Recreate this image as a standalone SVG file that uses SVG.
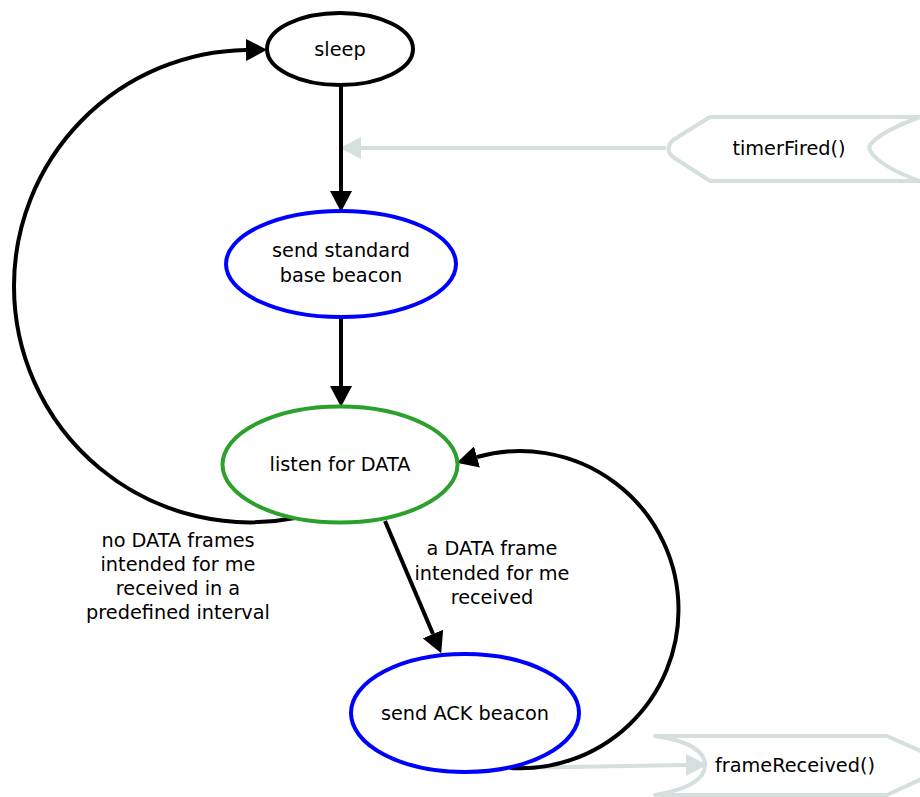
<svg xmlns="http://www.w3.org/2000/svg" width="920" height="797" viewBox="0 0 920 797">
  <style>
    text { font-family: "DejaVu Sans", "Liberation Sans", sans-serif; font-size: 19.3px; fill: #000; text-anchor: middle; }
    .state { fill: #fff; stroke-width: 4; }
    .plain { stroke: #000; }
    .beacon { stroke: #0000ff; }
    .listen { stroke: #2ca02c; }
    .signal { fill: #fff; stroke: #d5dfdd; stroke-width: 4; stroke-linejoin: round; }
    .edge { fill: none; stroke: #000; stroke-width: 4; }
    .sig-edge { fill: none; stroke: #d5dfdd; stroke-width: 4; }
  </style>
  <defs>
    <marker id="arrow" markerUnits="userSpaceOnUse" markerWidth="21" markerHeight="22" viewBox="0 0 21 22" refX="0" refY="11" orient="auto">
      <path d="M0,0 L21,11 L0,22 Z" fill="#000"/>
    </marker>
    <marker id="arrow-grey" markerUnits="userSpaceOnUse" markerWidth="21" markerHeight="22" viewBox="0 0 21 22" refX="0" refY="11" orient="auto">
      <path d="M0,0 L21,11 L0,22 Z" fill="#d5dfdd"/>
    </marker>
  </defs>
  <rect width="920" height="797" fill="#fff"/>

  <!-- signal connectors (drawn underneath the state transitions) -->
  <g id="signals">
    <path class="sig-edge" d="M666,148 L361,148" marker-end="url(#arrow-grey)"/>
    <path class="sig-edge" d="M510,768 L686,765" marker-end="url(#arrow-grey)"/>
  </g>

  <!-- state transitions -->
  <g id="connectors">
    <path class="edge" d="M341,84 L341,191" marker-end="url(#arrow)"/>
    <path class="edge" d="M341,317 L341,386" marker-end="url(#arrow)"/>
    <path class="edge" d="M385,521 L433,634" marker-end="url(#arrow)"/>
    <!-- timeout loop back to sleep: circle centred at (250,286) -->
    <path class="edge" d="M295,518 A236,236 0 0 1 14,286 A236,236 0 0 1 246,50" marker-end="url(#arrow)"/>
    <!-- ACK beacon sent, back to listening: circle centred at (520,610) -->
    <path class="edge" d="M510,768 A158.5,158.5 0 0 0 678.5,610 A158.5,158.5 0 0 0 477,457" marker-end="url(#arrow)"/>
  </g>

  <!-- transition labels -->
  <g id="label-timeout">
    <text x="178" y="547">no DATA frames</text>
    <text x="178" y="571">intended for me</text>
    <text x="178" y="595">received in a</text>
    <text x="178" y="619">predefined interval</text>
  </g>
  <g id="label-data">
    <text x="492" y="555">a DATA frame</text>
    <text x="492" y="580">intended for me</text>
    <text x="492" y="604">received</text>
  </g>

  <!-- states -->
  <g id="sleep">
    <ellipse class="state plain" cx="340" cy="49" rx="73" ry="36"/>
    <text x="340" y="56">sleep</text>
  </g>
  <g id="send-standard">
    <ellipse class="state beacon" cx="341" cy="264" rx="115" ry="53"/>
    <text x="341" y="257">send standard</text>
    <text x="341" y="282">base beacon</text>
  </g>
  <g id="listen">
    <ellipse class="state listen" cx="340" cy="464.5" rx="117.5" ry="58"/>
    <text x="340" y="471">listen for DATA</text>
  </g>
  <g id="send-ack">
    <ellipse class="state beacon" cx="465" cy="713" rx="114" ry="59"/>
    <text x="465" y="720">send ACK beacon</text>
  </g>

  <!-- input / output signals -->
  <g id="timerFired">
    <path class="signal" d="M710,117 L920,117 C882,131 866,144 870,150 C874,160 894,172 920,181 L710,181 L673,157 Q664,149 673,140 Z"/>
    <text x="789" y="155">timerFired()</text>
  </g>
  <g id="frameReceived">
    <path class="signal" d="M655,736 L887,736 L952,765 L887,795 L655,795 C690,789 705,778 705,765 C705,752 690,741 655,736 Z"/>
    <text x="795" y="772">frameReceived()</text>
  </g>
</svg>
